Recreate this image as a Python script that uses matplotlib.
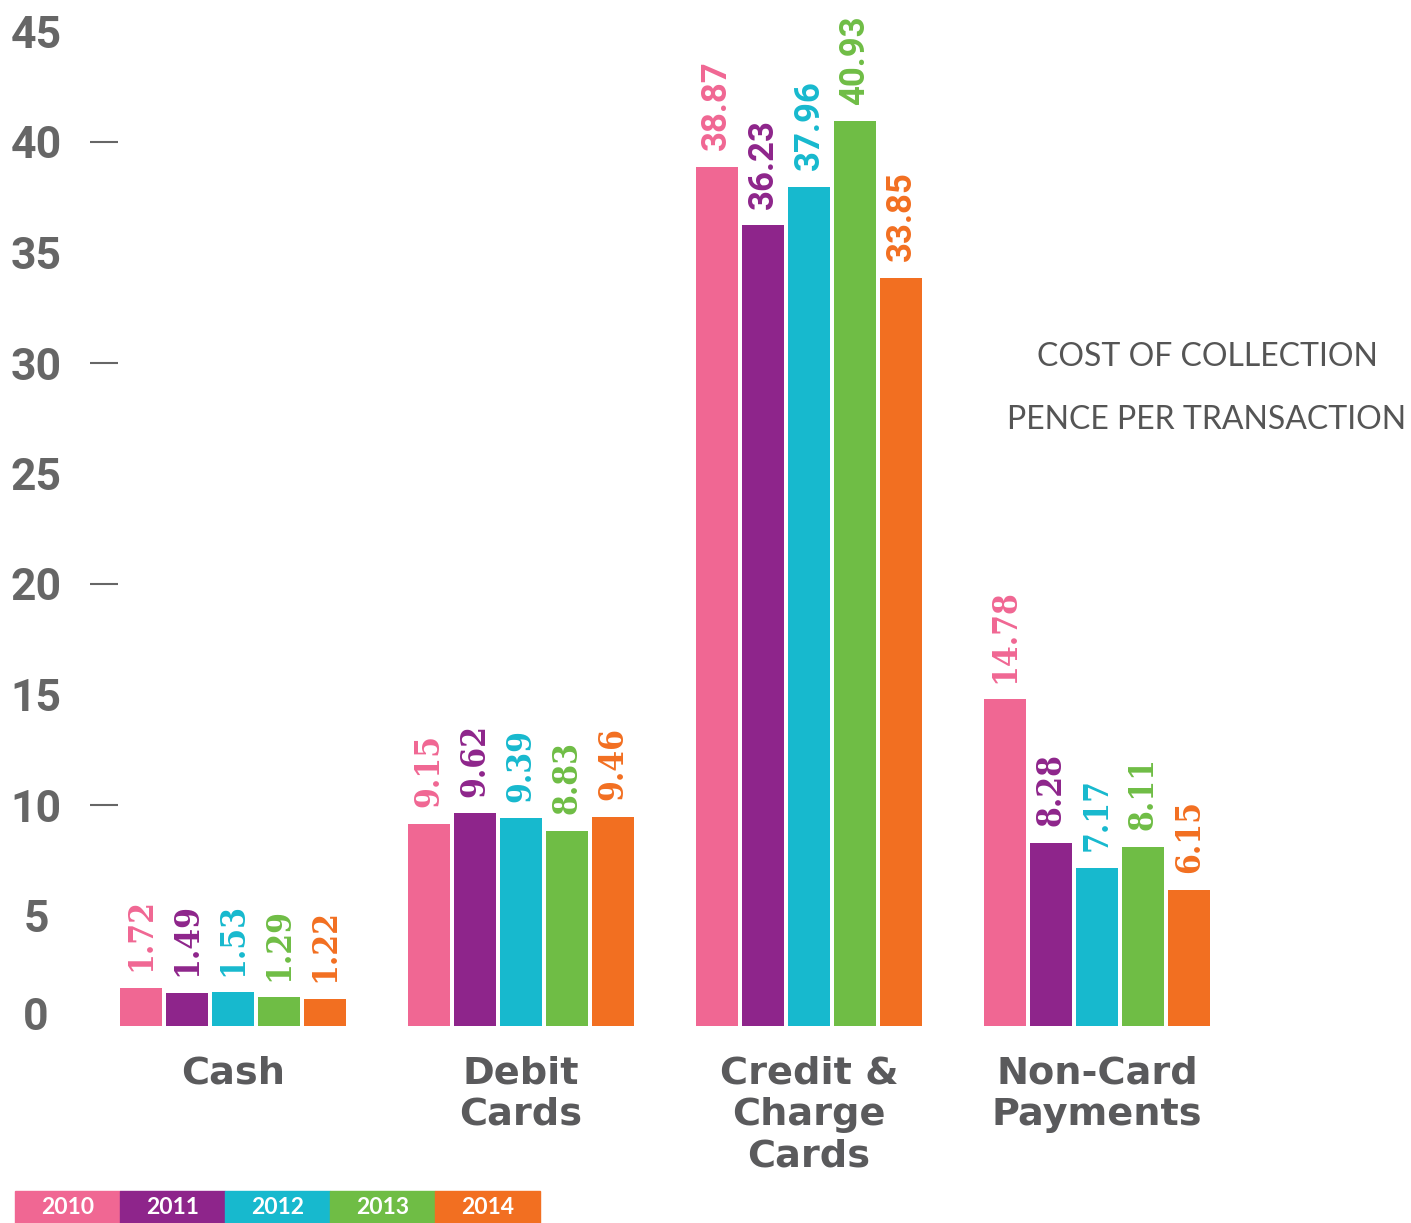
import matplotlib
matplotlib.use("Agg")
import matplotlib.pyplot as plt
from matplotlib.patches import Rectangle
from matplotlib.transforms import ScaledTranslation
import numpy as np

categories = ["Cash", "Debit\nCards", "Credit &\nCharge\nCards", "Non-Card\nPayments"]
years = ["2010", "2011", "2012", "2013", "2014"]
values = {
    "2010": [1.72, 9.15, 38.87, 14.78],
    "2011": [1.49, 9.62, 36.23, 8.28],
    "2012": [1.53, 9.39, 37.96, 7.17],
    "2013": [1.29, 8.83, 40.93, 8.11],
    "2014": [1.22, 9.46, 33.85, 6.15],
}
colors = ["#F06793", "#8E258B", "#17B9CE", "#6FBD45", "#F26F21"]
yticks = list(range(0, 50, 5))
tick_marks = [10, 20, 30, 40]
title_lines = ["COST OF COLLECTION", "PENCE PER TRANSACTION"]

grey = "#5A5A5C"
W, H = 1411, 1223
fig = plt.figure(figsize=(W / 100, H / 100), dpi=100)

# axes placed in pixel terms: y=0 at 1026px, y=45 at 31.5px, x from 118px
ax = fig.add_axes([118 / W, (H - 1026) / H, (W - 118) / W, (1026 - 31.5) / H])
ax.set_ylim(0, 45)
ax.set_xlim((118 - 233) / 288, (W - 233) / 288)

x = np.arange(len(categories))
step = 0.16
width = 0.146
for i, (yr, col) in enumerate(zip(years, colors)):
    pos = x + (i - 2) * step
    ax.bar(pos, values[yr], width=width, color=col)
    for j, (px, v) in enumerate(zip(pos, values[yr])):
        if j == 2:
            font = dict(family="Roboto", fontsize=25, fontweight="bold")
        else:
            font = dict(family="DejaVu Serif", fontsize=24, fontweight="bold",
                        fontstretch="condensed")
        ax.annotate(f"{v:.2f}", (px, v), xytext=(0, 12), textcoords="offset points",
                    rotation=90, ha="center", va="bottom", color=col,
                    annotation_clip=False, **font)

for s in ax.spines.values():
    s.set_visible(False)

ax.set_yticks(yticks)
ax.set_yticklabels([str(t) for t in yticks], family="Roboto", fontweight="bold",
                   fontsize=32, color="#666666")
ax.tick_params(axis="y", which="major", length=0, pad=59)
plt.setp(ax.get_yticklabels(), ha="center")
# the "0" sits a little above the baseline in the original
zero = ax.get_yticklabels()[0]
zero.set_transform(zero.get_transform() + ScaledTranslation(0, 12 / 100, fig.dpi_scale_trans))
ax.yaxis.remove_overlapping_locs = False
ax.set_yticks(tick_marks, minor=True)
ax.tick_params(axis="y", which="minor", length=20, width=1.5, color="#666666",
               direction="out")

ax.set_xticks(x)
ax.set_xticklabels(categories, family="DejaVu Sans", fontweight="bold",
                   fontsize=27.5, color=grey, linespacing=1.2)
ax.tick_params(axis="x", length=0, pad=21)

for k, line in enumerate(title_lines):
    fig.text(1207 / W, (H - 357 - 63 * k) / H, line, family="Lato", fontsize=23,
             color="#555555", ha="center", va="center")

# legend strip along the bottom
lx, lw = 15, 105
for i, (yr, col) in enumerate(zip(years, colors)):
    fig.add_artist(Rectangle(((lx + i * lw) / W, 0), lw / W, 32 / H,
                             transform=fig.transFigure, color=col))
    fig.text((lx + i * lw + lw / 2) / W, 15 / H, yr, family="Lato", fontweight="bold",
             fontsize=16.5, color="white", ha="center", va="center")

fig.savefig("out.png", dpi=100)
